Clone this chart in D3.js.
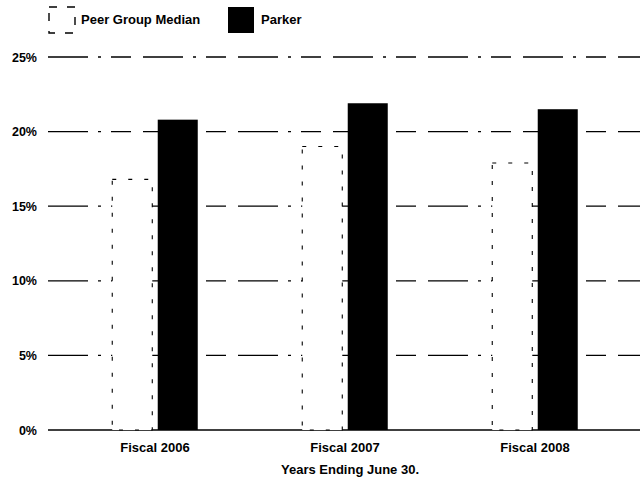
<!DOCTYPE html>
<meta charset="utf-8">
<script src="https://d3js.org/d3.v7.min.js"></script>
<style>
  body { margin: 0; background: #fff; }
  text { font-family: "Liberation Sans", Arial, sans-serif; font-weight: bold; }
</style>
<body>
<div id="chart"></div>
<script>

// values (percent)
var years = ["Fiscal 2006", "Fiscal 2007", "Fiscal 2008"];
var seriesNames = ["Peer Group Median", "Parker"];
var peerValues = [16.8, 19.0, 17.9];
var parkerValues = [20.8, 21.9, 21.5];
var yTicks = [0, 5, 10, 15, 20, 25];
var xTitle = "Years Ending June 30.";

var width = 640, height = 480;

var svg = d3.select("#chart")
  .append("svg")
    .attr("width", width)
    .attr("height", height);

var y = d3.scaleLinear()
  .domain([0, 25])
  .range([430, 57]);

var x0 = d3.scaleBand()
  .domain(years)
  .range([60, 630])
  .paddingInner(0.55)
  .paddingOuter(0.275);

var x1 = d3.scaleBand()
  .domain(seriesNames)
  .range([0, x0.bandwidth()])
  .paddingInner(0.12);

var color = { "Peer Group Median": "#fff", "Parker": "#000" };

// gridlines
svg.append("g")
  .selectAll("line")
  .data(yTicks)
  .enter()
  .append("line")
    .attr("x1", 48)
    .attr("x2", width)
    .attr("y1", function(d) { return y(d); })
    .attr("y2", function(d) { return y(d); })
    .style("stroke", "#000")
    .style("stroke-width", 1.3)
    .style("stroke-dasharray", function(d) { return d == 0 ? null : "40,10,3,10,20,12"; });

// y labels
var yAxis = svg.append("g")
  .attr("transform", "translate(40,0)")
  .call(d3.axisLeft(y).tickValues(yTicks).tickSize(0).tickFormat(function(d) { return d + "%"; }));
yAxis.select(".domain").remove();
yAxis.selectAll("text")
  .attr("x", -3)
  .style("font-size", "12.5px")
  .style("font-family", "'Liberation Sans', Arial, sans-serif")
  .style("font-weight", "bold")
  .style("fill", "#000");

// bars
var rows = years.map(function(yr, i) {
  return [
    { year: yr, key: "Peer Group Median", value: peerValues[i] },
    { year: yr, key: "Parker", value: parkerValues[i] }
  ];
});

svg.append("g")
  .selectAll("g")
  .data(rows)
  .enter()
  .append("g")
    .attr("transform", function(d) { return "translate(" + x0(d[0].year) + ",0)"; })
  .selectAll("rect")
  .data(function(d) { return d; })
  .enter()
  .append("rect")
    .attr("x", function(d) { return x1(d.key); })
    .attr("y", function(d) { return y(d.value); })
    .attr("width", x1.bandwidth())
    .attr("height", function(d) { return y(0) - y(d.value); })
    .style("fill", function(d) { return color[d.key]; })
    .style("stroke", "#000")
    .style("stroke-width", function(d) { return d.key == "Parker" ? 0 : 1.1; })
    .style("stroke-dasharray", function(d) { return d.key == "Parker" ? null : "4,12"; });

// x labels
var xAxis = svg.append("g")
  .attr("transform", "translate(0,440)")
  .call(d3.axisBottom(x0).tickSize(0));
xAxis.select(".domain").remove();
xAxis.selectAll("text")
  .attr("dy", "0.71em")
  .style("font-size", "13px")
  .style("font-family", "'Liberation Sans', Arial, sans-serif")
  .style("font-weight", "bold")
  .style("fill", "#000");

svg.append("text")
  .attr("x", 350)
  .attr("y", 474)
  .attr("text-anchor", "middle")
  .style("font-size", "13px")
  .text(xTitle);

// legend
var legend = svg.append("g");
legend.append("rect")
  .attr("x", 49).attr("y", 7)
  .attr("width", 26).attr("height", 26)
  .style("fill", "#fff")
  .style("stroke", "#000")
  .style("stroke-width", 1.4)
  .style("stroke-dasharray", "8,10");
legend.append("text")
  .attr("x", 81).attr("y", 24)
  .style("font-size", "13px")
  .text(seriesNames[0]);
legend.append("rect")
  .attr("x", 228).attr("y", 7)
  .attr("width", 26).attr("height", 26)
  .style("fill", "#000");
legend.append("text")
  .attr("x", 261).attr("y", 24)
  .style("font-size", "13px")
  .text(seriesNames[1]);

</script>
</body>
